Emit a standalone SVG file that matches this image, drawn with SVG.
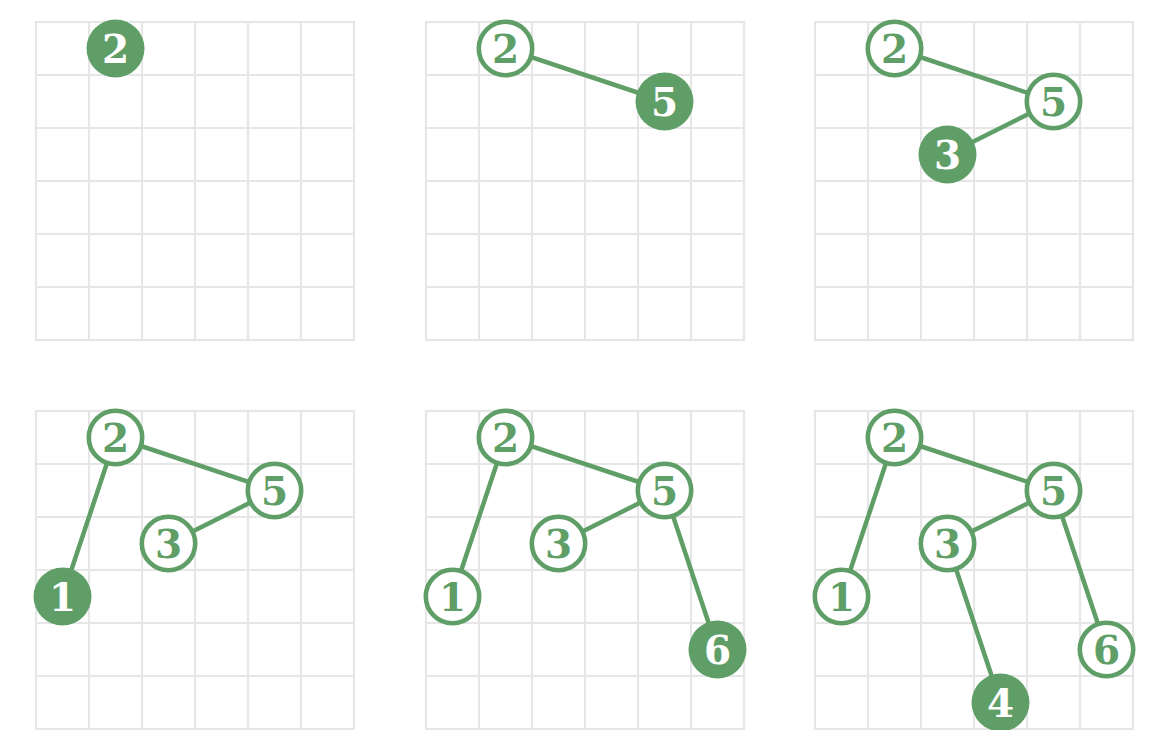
<svg xmlns="http://www.w3.org/2000/svg" width="1167" height="730" viewBox="0 0 1167 730">
<style>
.grid{fill:none;stroke:#e6e6e6;stroke-width:2.2}
.edge{stroke:#5f9f67;stroke-width:4.5;stroke-linecap:round}
.nf{fill:#5f9f67;stroke:none}
.no{fill:#ffffff;stroke:#5f9f67;stroke-width:4.6}
.tf{fill:#ffffff;font-family:"DejaVu Serif","Liberation Serif",serif;font-weight:bold;font-size:39px;text-anchor:middle}
.to{fill:#5f9f67;font-family:"DejaVu Serif","Liberation Serif",serif;font-weight:bold;font-size:39px;text-anchor:middle}
</style>
<defs>
<g id="gridpat">
<rect class="grid" x="0" y="0" width="318" height="318"/>
<path class="grid" d="M53,0V318M106,0V318M159,0V318M212,0V318M265,0V318M0,53H318M0,106H318M0,159H318M0,212H318M0,265H318"/>
</g>
</defs>
<rect width="1167" height="730" fill="#ffffff"/>
<g id="grids">
<use href="#gridpat" x="36" y="22"/>
<use href="#gridpat" x="426" y="22"/>
<use href="#gridpat" x="815" y="22"/>
<use href="#gridpat" x="36" y="411"/>
<use href="#gridpat" x="426" y="411"/>
<use href="#gridpat" x="815" y="411"/>
</g>
<g id="connectors">
<line class="edge" x1="505.5" y1="48.5" x2="664.5" y2="101.5"/>
<line class="edge" x1="894.5" y1="48.5" x2="1053.5" y2="101.5"/>
<line class="edge" x1="1053.5" y1="101.5" x2="947.5" y2="154.5"/>
<line class="edge" x1="115.5" y1="437.5" x2="274.5" y2="490.5"/>
<line class="edge" x1="274.5" y1="490.5" x2="168.5" y2="543.5"/>
<line class="edge" x1="115.5" y1="437.5" x2="62.5" y2="596.5"/>
<line class="edge" x1="505.5" y1="437.5" x2="664.5" y2="490.5"/>
<line class="edge" x1="664.5" y1="490.5" x2="558.5" y2="543.5"/>
<line class="edge" x1="505.5" y1="437.5" x2="452.5" y2="596.5"/>
<line class="edge" x1="664.5" y1="490.5" x2="717.5" y2="649.5"/>
<line class="edge" x1="894.5" y1="437.5" x2="1053.5" y2="490.5"/>
<line class="edge" x1="1053.5" y1="490.5" x2="947.5" y2="543.5"/>
<line class="edge" x1="894.5" y1="437.5" x2="841.5" y2="596.5"/>
<line class="edge" x1="1053.5" y1="490.5" x2="1106.5" y2="649.5"/>
<line class="edge" x1="947.5" y1="543.5" x2="1000.5" y2="702.5"/>
</g>
<g id="p1-n2"><circle class="nf" cx="115.5" cy="48.5" r="29"/><text class="tf" x="115.5" y="63">2</text></g>
<g id="p2-n2"><circle class="no" cx="505.5" cy="48.5" r="26.7"/><text class="to" x="505.5" y="63">2</text></g>
<g id="p2-n5"><circle class="nf" cx="664.5" cy="101.5" r="29"/><text class="tf" x="664.5" y="116">5</text></g>
<g id="p3-n2"><circle class="no" cx="894.5" cy="48.5" r="26.7"/><text class="to" x="894.5" y="63">2</text></g>
<g id="p3-n5"><circle class="no" cx="1053.5" cy="101.5" r="26.7"/><text class="to" x="1053.5" y="116">5</text></g>
<g id="p3-n3"><circle class="nf" cx="947.5" cy="154.5" r="29"/><text class="tf" x="947.5" y="169">3</text></g>
<g id="p4-n2"><circle class="no" cx="115.5" cy="437.5" r="26.7"/><text class="to" x="115.5" y="452">2</text></g>
<g id="p4-n5"><circle class="no" cx="274.5" cy="490.5" r="26.7"/><text class="to" x="274.5" y="505">5</text></g>
<g id="p4-n3"><circle class="no" cx="168.5" cy="543.5" r="26.7"/><text class="to" x="168.5" y="558">3</text></g>
<g id="p4-n1"><circle class="nf" cx="62.5" cy="596.5" r="29"/><text class="tf" x="62.5" y="611">1</text></g>
<g id="p5-n2"><circle class="no" cx="505.5" cy="437.5" r="26.7"/><text class="to" x="505.5" y="452">2</text></g>
<g id="p5-n5"><circle class="no" cx="664.5" cy="490.5" r="26.7"/><text class="to" x="664.5" y="505">5</text></g>
<g id="p5-n3"><circle class="no" cx="558.5" cy="543.5" r="26.7"/><text class="to" x="558.5" y="558">3</text></g>
<g id="p5-n1"><circle class="no" cx="452.5" cy="596.5" r="26.7"/><text class="to" x="452.5" y="611">1</text></g>
<g id="p5-n6"><circle class="nf" cx="717.5" cy="649.5" r="29"/><text class="tf" x="717.5" y="664">6</text></g>
<g id="p6-n2"><circle class="no" cx="894.5" cy="437.5" r="26.7"/><text class="to" x="894.5" y="452">2</text></g>
<g id="p6-n5"><circle class="no" cx="1053.5" cy="490.5" r="26.7"/><text class="to" x="1053.5" y="505">5</text></g>
<g id="p6-n3"><circle class="no" cx="947.5" cy="543.5" r="26.7"/><text class="to" x="947.5" y="558">3</text></g>
<g id="p6-n1"><circle class="no" cx="841.5" cy="596.5" r="26.7"/><text class="to" x="841.5" y="611">1</text></g>
<g id="p6-n6"><circle class="no" cx="1106.5" cy="649.5" r="26.7"/><text class="to" x="1106.5" y="664">6</text></g>
<g id="p6-n4"><circle class="nf" cx="1000.5" cy="702.5" r="29"/><text class="tf" x="1000.5" y="717">4</text></g>
</svg>
